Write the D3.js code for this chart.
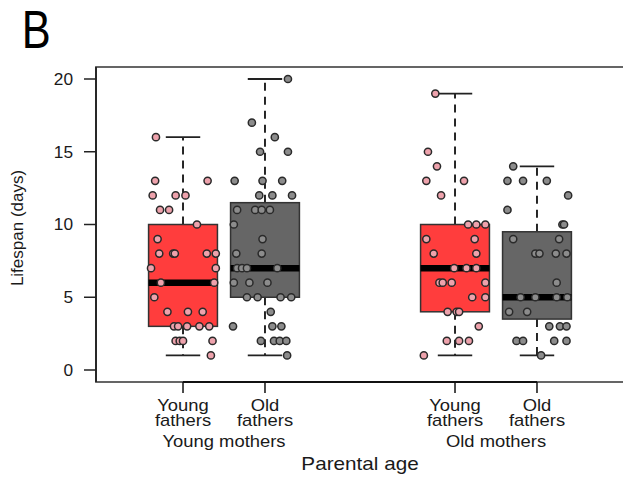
<!DOCTYPE html>
<html>
<head>
<meta charset="utf-8">
<script src="https://cdn.jsdelivr.net/npm/d3@7"></script>
<style>
  html, body { margin: 0; padding: 0; background: #fff; }
  svg { display: block; font-family: "Liberation Sans", Arial, sans-serif; }
</style>
</head>
<body>
<svg id="chart" width="623" height="480"></svg>
<script>
// Box summaries, one entry per group (mother age x father age)
const fatherGroups = ["Young fathers", "Old fathers", "Young fathers", "Old fathers"];
const motherGroups = ["Young mothers", "Young mothers", "Old mothers", "Old mothers"];
const whiskerLow  = [1, 1, 1, 1];
const quartile1   = [3, 5, 4, 3.5];
const medians     = [6, 7, 7, 5];
const quartile3   = [10, 11.5, 10, 9.5];
const whiskerHigh = [16, 20, 19, 14];

const motherLevels = ["Young mothers", "Old mothers"];
const fatherLevels = ["Young fathers", "Old fathers"];
const yTicks = [0, 5, 10, 15, 20];

// Individual lifespans (days) and their horizontal jitter (fraction of group spacing)
const lifespanYMYF = [16,13,13,12,12,12,11,11,10,9,8,8,8,8,8,7,7,6,6,5,4,4,4,3,3,3,3,3,2,2,2,2,1];
const jitterYMYF   = [-0.33,-0.34,0.30,-0.37,-0.09,0.03,-0.28,-0.17,0.17,-0.31,-0.29,-0.12,-0.10,0.29,0.40,-0.39,0.40,-0.27,0.38,-0.35,-0.19,0.06,0.24,-0.11,-0.06,0.05,0.20,0.32,-0.09,-0.04,0.00,0.36,0.34];

const lifespanYMOF = [20,17,16,15,15,13,13,13,12,12,12,11,11,11,11,10,9,8,8,7,7,7,7,6,6,6,5,5,5,5,4,3,3,3,2,2,2,2,1];
const jitterYMOF   = [0.28,-0.16,0.12,-0.06,0.28,-0.37,-0.03,0.21,-0.07,0.09,0.33,-0.34,-0.12,-0.04,0.06,-0.38,-0.03,-0.35,-0.04,-0.34,-0.28,-0.22,0.15,-0.38,-0.19,0.03,-0.22,-0.09,0.19,0.32,0.07,-0.39,0.09,0.20,-0.05,0.11,0.18,0.26,0.27];

const lifespanOMYF = [19,15,14,13,13,12,10,10,10,9,9,8,8,7,7,7,6,6,6,6,5,5,4,4,4,3,2,2,2,1];
const jitterOMYF   = [-0.24,-0.33,-0.22,-0.35,0.11,-0.17,0.16,0.26,0.37,-0.35,0.24,-0.26,0.26,-0.01,0.14,0.26,-0.19,-0.15,-0.04,0.37,0.21,0.37,-0.09,0.02,0.05,0.29,-0.10,0.05,0.17,-0.38];

const lifespanOMOF = [14,13,13,13,12,11,10,10,9,9,8,8,8,8,6,5,5,5,5,4,4,3,3,3,2,2,2,2,1];
const jitterOMOF   = [-0.29,-0.36,-0.17,0.12,0.38,-0.36,0.31,0.33,-0.29,0.27,-0.02,0.03,0.23,0.36,0.24,-0.20,-0.02,0.24,0.37,-0.34,-0.12,0.15,0.28,0.36,-0.25,-0.17,0.21,0.36,0.05];

const groupPoints = [
  { values: lifespanYMYF, jitter: jitterYMYF },
  { values: lifespanYMOF, jitter: jitterYMOF },
  { values: lifespanOMYF, jitter: jitterOMYF },
  { values: lifespanOMOF, jitter: jitterOMOF }
];

const boxFill   = { "Young fathers": "#ff3d3d", "Old fathers": "#666666" };
const pointFill = { "Young fathers": "#eea2ac", "Old fathers": "#8c8c8c" };

const svg = d3.select("#chart");

// Scales
const xOuter = d3.scaleBand().domain(motherLevels).range([88, 632]);
const xInner = d3.scalePoint().domain(fatherLevels).range([0, xOuter.bandwidth()]).padding(1.159);
const step = xInner.step();
const xCenter = i => xOuter(motherGroups[i]) + xInner(fatherGroups[i]);
const y = d3.scaleLinear().domain([0, 20]).range([370, 79]);

const plotLeft = 96, plotTop = 67, plotBottom = 382;
const boxW = 0.84 * step;
const capW = boxW / 2;

// Text helper with a slight horizontal stretch
function label(g, x, yPos, str, size, anchor, sx) {
  return g.append("text")
    .attr("transform", `translate(${x},${yPos}) scale(${sx},1)`)
    .attr("text-anchor", anchor)
    .attr("font-size", size)
    .attr("fill", "#1a1a1a")
    .text(str);
}

// Panel letter
svg.append("text")
  .attr("transform", "translate(21.8,48.3) scale(0.82,1)")
  .attr("font-size", 53)
  .attr("fill", "#000")
  .text("B");

// Plot frame
svg.append("rect")
  .attr("x", plotLeft).attr("y", plotTop)
  .attr("width", 700).attr("height", plotBottom - plotTop)
  .attr("fill", "none").attr("stroke", "#555").attr("stroke-width", 1.8);

const boxes = svg.append("g");
fatherGroups.forEach((f, i) => {
  const cx = xCenter(i);
  const g = boxes.append("g");
  // whiskers
  g.append("line").attr("x1", cx).attr("x2", cx)
    .attr("y1", y(quartile3[i])).attr("y2", y(whiskerHigh[i]))
    .attr("stroke", "#111").attr("stroke-width", 1.8).attr("stroke-dasharray", "8,6");
  g.append("line").attr("x1", cx).attr("x2", cx)
    .attr("y1", y(quartile1[i])).attr("y2", y(whiskerLow[i]))
    .attr("stroke", "#111").attr("stroke-width", 1.8).attr("stroke-dasharray", "8,6");
  // caps
  [whiskerHigh[i], whiskerLow[i]].forEach(v => {
    g.append("line").attr("x1", cx - capW / 2).attr("x2", cx + capW / 2)
      .attr("y1", y(v)).attr("y2", y(v))
      .attr("stroke", "#222").attr("stroke-width", 1.8);
  });
  // box
  g.append("rect")
    .attr("x", cx - boxW / 2).attr("y", y(quartile3[i]))
    .attr("width", boxW).attr("height", y(quartile1[i]) - y(quartile3[i]))
    .attr("fill", boxFill[f]).attr("stroke", "#333").attr("stroke-width", 1.5);
  // median
  g.append("line").attr("x1", cx - boxW / 2).attr("x2", cx + boxW / 2)
    .attr("y1", y(medians[i])).attr("y2", y(medians[i]))
    .attr("stroke", "#000").attr("stroke-width", 6.5);
});

// Jittered individual points
const pts = svg.append("g");
groupPoints.forEach((gp, i) => {
  const cx = xCenter(i);
  pts.selectAll(null)
    .data(gp.values.map((v, k) => ({ v, j: gp.jitter[k] })))
    .join("circle")
    .attr("cx", d => cx + d.j * step)
    .attr("cy", d => y(d.v))
    .attr("r", 3.6)
    .attr("fill", pointFill[fatherGroups[i]])
    .attr("stroke", "#2a2a2a")
    .attr("stroke-width", 1.5);
});

// Y axis
const yAxisG = svg.append("g");
yAxisG.append("line").attr("x1", plotLeft).attr("x2", plotLeft)
  .attr("y1", plotTop).attr("y2", plotBottom)
  .attr("stroke", "#222").attr("stroke-width", 1.8);
yTicks.forEach(t => {
  yAxisG.append("line").attr("x1", 84).attr("x2", plotLeft)
    .attr("y1", y(t)).attr("y2", y(t))
    .attr("stroke", "#222").attr("stroke-width", 1.5);
  label(yAxisG, 73, y(t) + 5.8, String(t), 16, "end", 1.08);
});
svg.append("text")
  .attr("transform", `translate(19,228) rotate(-90)`)
  .attr("dy", "0.26em")
  .attr("text-anchor", "middle")
  .attr("font-size", 17)
  .attr("fill", "#1a1a1a")
  .text("Lifespan (days)");

// X axis
const xAxisG = svg.append("g");
const centers = fatherGroups.map((f, i) => xCenter(i));
xAxisG.append("line")
  .attr("x1", d3.min(centers)).attr("x2", d3.max(centers))
  .attr("y1", plotBottom).attr("y2", plotBottom)
  .attr("stroke", "#111").attr("stroke-width", 1.8);
fatherGroups.forEach((f, i) => {
  const cx = centers[i];
  xAxisG.append("line").attr("x1", cx).attr("x2", cx)
    .attr("y1", plotBottom).attr("y2", plotBottom + 11)
    .attr("stroke", "#111").attr("stroke-width", 1.5);
  const [w1, w2] = f.split(" ");
  label(xAxisG, cx, 411.2, w1, 16, "middle", 1.15);
  label(xAxisG, cx, 425.5, w2, 16, "middle", 1.15);
});
motherLevels.forEach(m => {
  label(xAxisG, xOuter(m) + xOuter.bandwidth() / 2, 446.7, m, 16, "middle", 1.15);
});
label(svg, (d3.min(centers) + d3.max(centers)) / 2, 470, "Parental age", 18, "middle", 1.15);
</script>
</body>
</html>
